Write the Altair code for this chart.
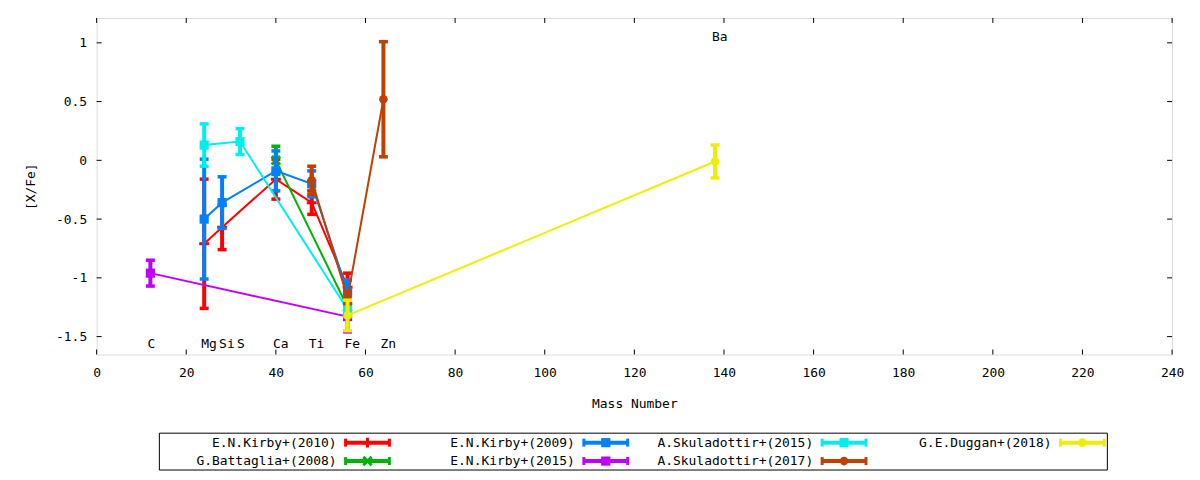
import altair as alt
import pandas as pd

# ---------------- data ----------------
series_names = ["E.N.Kirby+(2010)", "G.Battaglia+(2008)", "E.N.Kirby+(2009)", "E.N.Kirby+(2015)",
                "A.Skuladottir+(2015)", "A.Skuladottir+(2017)", "G.E.Duggan+(2018)"]
series_colors = ["#ff0000", "#00b300", "#0080ff", "#c000ff", "#00eeee", "#c04000", "#eeee00"]

kirby2010_mass = [24, 28, 40, 48, 56]
kirby2010_val = [-0.71, -0.57, -0.16, -0.36, -1.08]
kirby2010_err = [0.55, 0.19, 0.17, 0.10, 0.12]

battaglia2008_mass = [40, 56]
battaglia2008_val = [0.00, -1.25]
battaglia2008_err = [0.12, 0.10]

kirby2009_mass = [24, 28, 40, 48, 56]
kirby2009_val = [-0.50, -0.36, -0.09, -0.20, -1.12]
kirby2009_err = [0.51, 0.22, 0.17, 0.11, 0.10]

kirby2015_mass = [12, 56]
kirby2015_val = [-0.96, -1.33]
kirby2015_err = [0.11, 0.13]

skul2015_mass = [24, 32, 56]
skul2015_val = [0.13, 0.16, -1.27]
skul2015_err = [0.18, 0.11, 0.06]

skul2017_mass = [48, 56, 64]
skul2017_val = [-0.17, -1.17, 0.52]
skul2017_err = [0.12, 0.05, 0.49]

duggan2018_mass = [56, 138]
duggan2018_val = [-1.32, -0.01]
duggan2018_err = [0.13, 0.14]

element_names = ["C", "Mg", "Si", "S", "Ca", "Ti", "Fe", "Zn", "Ba"]
element_mass = [12, 24, 28, 32, 40, 48, 56, 64, 138]
element_label_y = [-1.56, -1.56, -1.56, -1.56, -1.56, -1.56, -1.56, -1.56, 1.05]

x_ticks = [0, 20, 40, 60, 80, 100, 120, 140, 160, 180, 200, 220, 240]
y_ticks = [-1.5, -1, -0.5, 0, 0.5, 1]

series_data = [
    (kirby2010_mass, kirby2010_val, kirby2010_err),
    (battaglia2008_mass, battaglia2008_val, battaglia2008_err),
    (kirby2009_mass, kirby2009_val, kirby2009_err),
    (kirby2015_mass, kirby2015_val, kirby2015_err),
    (skul2015_mass, skul2015_val, skul2015_err),
    (skul2017_mass, skul2017_val, skul2017_err),
    (duggan2018_mass, duggan2018_val, duggan2018_err),
]

# ---------------- styling ----------------
FONT = "DejaVu Sans Mono"
FS = 13
W, H = 1080, 338

PLUS = "M-1,0H1M0,-1V1"
XMARK = "M-1,-1L1,1M-1,1L1,-1"
marker_style = [
    dict(shape=PLUS, filled=False, size=100, strokeWidth=3),
    dict(shape=XMARK, filled=False, size=70, strokeWidth=3),
    dict(shape="square", filled=True, size=85, strokeWidth=0),
    dict(shape="square", filled=True, size=85, strokeWidth=0),
    dict(shape="square", filled=True, size=85, strokeWidth=0),
    dict(shape="circle", filled=True, size=75, strokeWidth=0),
    dict(shape="circle", filled=True, size=75, strokeWidth=0),
]

xscale = alt.Scale(domain=[0, 240], nice=False, zero=False)
yscale = alt.Scale(domain=[-1.6525, 1.2119], nice=False, zero=False)

xaxis = alt.Axis(values=x_ticks, ticks=False, tickSize=0, domain=False, grid=False,
                 labelFont=FONT, labelFontSize=FS, labelColor="black", labelPadding=12,
                 labelFlush=False, labelExpr="'' + datum.value",
                 title="Mass Number", titleFont=FONT, titleFontSize=FS, titleFontWeight="normal",
                 titleColor="black", titleX=W / 2, titleY=49, titleBaseline="middle")
yaxis = alt.Axis(values=y_ticks, ticks=False, tickSize=0, domain=False, grid=False,
                 labelFont=FONT, labelFontSize=FS, labelColor="black", labelPadding=10,
                 labelFlush=False, labelExpr="'' + datum.value",
                 title="[X/Fe]", titleFont=FONT, titleFontSize=FS, titleFontWeight="normal",
                 titleColor="black", titleX=-66, titleY=H / 2, titleAngle=270,
                 titleBaseline="middle", titleAlign="center")


def X(field):
    return alt.X(field, type="quantitative", scale=xscale, axis=xaxis)


def Y(field):
    return alt.Y(field, type="quantitative", scale=yscale, axis=yaxis)


layers = []

# inward ticks (all four sides)
xt = pd.DataFrame({"t": x_ticks})
yt = pd.DataFrame({"t": y_ticks})
tick_style = dict(color="black", strokeWidth=1)
layers.append(alt.Chart(xt).mark_rule(**tick_style).encode(x=X("t"), y=alt.value(H), y2=alt.value(H - 5)))
layers.append(alt.Chart(xt).mark_rule(**tick_style).encode(x=X("t"), y=alt.value(0), y2=alt.value(5)))
layers.append(alt.Chart(yt).mark_rule(**tick_style).encode(y=Y("t"), x=alt.value(0), x2=alt.value(5)))
layers.append(alt.Chart(yt).mark_rule(**tick_style).encode(y=Y("t"), x=alt.value(W), x2=alt.value(W - 5)))

# series
for i, (m, v, e) in enumerate(series_data):
    c = series_colors[i]
    df = pd.DataFrame({"mass": m, "val": v,
                       "lo": [a - b for a, b in zip(v, e)],
                       "hi": [a + b for a, b in zip(v, e)]})
    base = alt.Chart(df)
    layers.append(base.mark_line(color=c, strokeWidth=2).encode(x=X("mass"), y=Y("val")))
    layers.append(base.mark_rule(color=c, strokeWidth=4).encode(x=X("mass"), y=Y("lo"), y2="hi"))
    layers.append(base.transform_fold(["lo", "hi"]).mark_tick(
        color=c, orient="horizontal", size=9, thickness=3.5, opacity=1
    ).encode(x=X("mass"), y=Y("value")))
    ms = marker_style[i]
    layers.append(base.mark_point(color=c, opacity=1, **ms).encode(x=X("mass"), y=Y("val")))

# element labels
el = pd.DataFrame({"name": element_names, "mass": element_mass, "ly": element_label_y})
layers.append(alt.Chart(el).mark_text(align="left", baseline="middle", dx=-3, font=FONT,
                                      fontSize=FS, color="black").encode(
    x=X("mass"), y=Y("ly"), text="name:N"))

# legend (gnuplot-style key box below the plot)
box = pd.DataFrame({"k": [0]})
layers.append(alt.Chart(box).mark_rect(fill="white", stroke="black", strokeWidth=1, clip=False).encode(
    x=alt.value(63), x2=alt.value(1015), y=alt.value(417), y2=alt.value(454)))

col_gap = 239.3
leg_rows = []
for i, name in enumerate(series_names):
    col, row = i // 2, i % 2
    tx = 241 + col * col_gap
    ly = 426.5 + row * 18.5
    leg_rows.append(dict(name=name, color=series_colors[i], tx=tx, s1=tx + 9, s2=tx + 53,
                         sm=tx + 31, ly=ly, lyt=ly - 4, lyb=ly + 4,
                         shape=marker_style[i]["shape"], idx=i))
leg = pd.DataFrame(leg_rows)
lbase = alt.Chart(leg)
PX = lambda f: alt.X(f, type="quantitative", scale=None)
PY = lambda f: alt.Y(f, type="quantitative", scale=None)
layers.append(lbase.mark_text(align="right", baseline="middle", font=FONT, fontSize=FS,
                              color="black", clip=False).encode(x=PX("tx"), y=PY("ly"), text="name:N"))
layers.append(lbase.mark_rule(strokeWidth=4, clip=False).encode(
    x=PX("s1"), x2="s2", y=PY("ly"), color=alt.Color("color:N", scale=None)))
layers.append(lbase.mark_rule(strokeWidth=3, clip=False).encode(
    x=PX("s1"), y=PY("lyt"), y2="lyb", color=alt.Color("color:N", scale=None)))
layers.append(lbase.mark_rule(strokeWidth=3, clip=False).encode(
    x=PX("s2"), y=PY("lyt"), y2="lyb", color=alt.Color("color:N", scale=None)))
for i in range(len(series_names)):
    ms = marker_style[i]
    layers.append(lbase.transform_filter(alt.datum.idx == i).mark_point(
        color=series_colors[i], opacity=1, clip=False, **ms).encode(x=PX("sm"), y=PY("ly")))

chart = alt.layer(*layers).properties(
    width=W, height=H,
    autosize=alt.AutoSizeParams(type="none"),
    padding={"left": 89, "top": 9, "right": 20, "bottom": 117},
).configure_view(stroke="black", strokeWidth=1).configure(background="white")

chart.save("out.html", embed_options={"renderer": "svg", "actions": False})
